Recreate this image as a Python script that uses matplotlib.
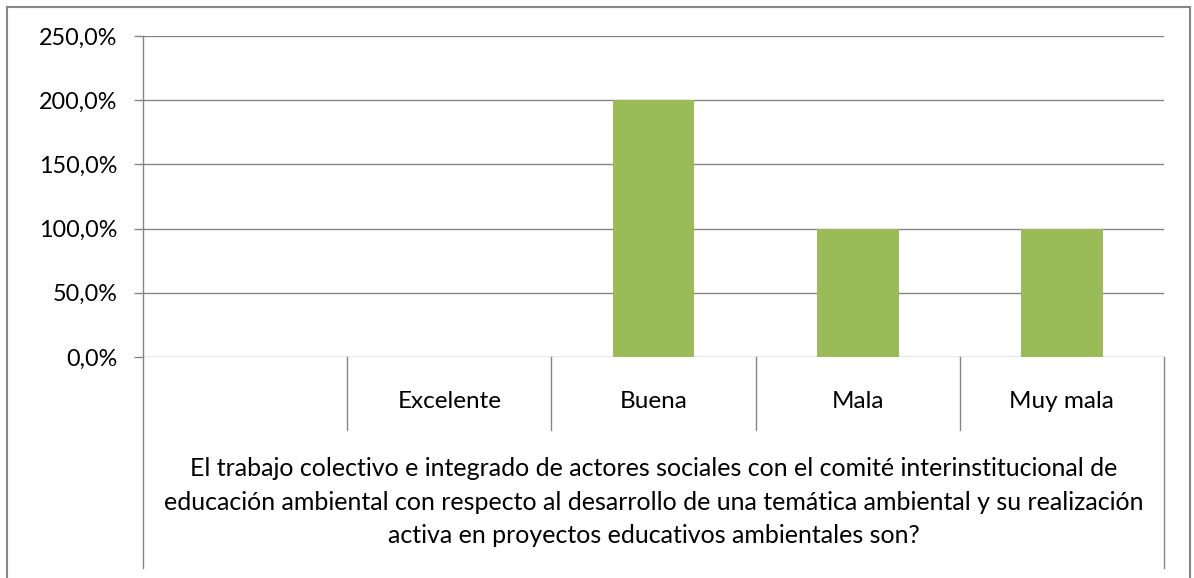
import numpy as np
import matplotlib
matplotlib.use("Agg")
import matplotlib.pyplot as plt
from matplotlib.lines import Line2D
from matplotlib.transforms import blended_transform_factory
from matplotlib.ticker import FuncFormatter

categories = ["", "Excelente", "Buena", "Mala", "Muy mala"]
values = [np.nan, 0.0, 200.0, 100.0, 100.0]
y_ticks = [0, 50, 100, 150, 200, 250]
group_label = ("El trabajo colectivo e integrado de actores sociales con el comité interinstitucional de\n"
               "educación ambiental con respecto al desarrollo de una temática ambiental y su realización\n"
               "activa en proyectos educativos ambientales son?")

plt.rcParams['font.family'] = ['Lato', 'DejaVu Sans']
W, H = 1194, 578
fig = plt.figure(figsize=(W / 100, H / 100), dpi=100)
L, R, T, B = 143, 1164, 36, 357
ax = fig.add_axes([L / W, 1 - B / H, (R - L) / W, (B - T) / H])

grey = '#868686'
green = '#9BBB59'
x = np.arange(len(categories))
ax.bar(x, values, width=0.4, color=green, zorder=3)
ax.set_xlim(-0.5, len(categories) - 0.5)
ax.set_ylim(0, 250)
ax.set_yticks(y_ticks)
ax.yaxis.set_major_formatter(FuncFormatter(lambda v, p: f"{v:.1f}".replace('.', ',') + '%'))
ax.tick_params(axis='y', length=6.5, width=1, color=grey, labelsize=16.8, pad=12, direction='out')
ax.set_xticks([])
for s in ['top', 'right', 'bottom']:
    ax.spines[s].set_visible(False)
ax.spines['left'].set_color(grey)
ax.spines['left'].set_linewidth(1)
for yv in y_ticks:
    ax.axhline(yv, color=grey, lw=1, zorder=1)

tr = blended_transform_factory(ax.transData, ax.transAxes)
ph = B - T
short = -(430 - B) / ph
long_ = -(568 - B) / ph
for k in range(len(categories) + 1):
    xb = k - 0.5
    y1 = long_ if k in (0, len(categories)) else short
    ax.add_line(Line2D([xb, xb], [0, y1], transform=tr, color=grey, lw=1, clip_on=False))

for i, c in enumerate(categories):
    ax.text(i, -(402 - B) / ph, c, transform=tr, ha='center', va='center', fontsize=17.5)

ax.text(0.5, -(502 - B) / ph, group_label, transform=ax.transAxes, ha='center', va='center',
        fontsize=18, linespacing=1.55)

# outer frame
px = lambda xp: xp / W
py = lambda yp: 1 - yp / H
fig.add_artist(Line2D([px(7), px(7)], [py(7), 0], color=grey, lw=1.5, transform=fig.transFigure))
fig.add_artist(Line2D([px(7), px(1190)], [py(7), py(7)], color=grey, lw=1.5, transform=fig.transFigure))
fig.add_artist(Line2D([px(1190), px(1190)], [py(7), 0], color=grey, lw=1.5, transform=fig.transFigure))

fig.savefig('out.png', dpi=100)
